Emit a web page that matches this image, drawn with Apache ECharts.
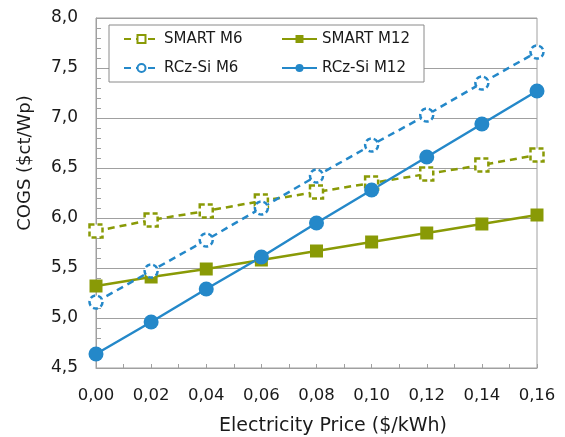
<!DOCTYPE html>
<html><head><meta charset="utf-8">
<script src="https://cdn.jsdelivr.net/npm/echarts@6/dist/echarts.min.js"></script>
<style>html,body{margin:0;padding:0;background:#fff}#c{width:565px;height:437px}</style>
</head><body><div id="c"></div>
<script>
const prices = [0.00, 0.02, 0.04, 0.06, 0.08, 0.10, 0.12, 0.14, 0.16];
const smartM6 = [5.87, 5.98, 6.07, 6.17, 6.26, 6.35, 6.44, 6.53, 6.63];
const smartM12 = [5.32, 5.41, 5.49, 5.58, 5.67, 5.76, 5.85, 5.94, 6.03];
const rczM6 = [5.16, 5.47, 5.78, 6.10, 6.42, 6.73, 7.03, 7.35, 7.66];
const rczM12 = [4.64, 4.96, 5.29, 5.61, 5.95, 6.28, 6.61, 6.94, 7.27];
const seriesNames = ['SMART M6', 'SMART M12', 'RCz-Si M6', 'RCz-Si M12'];
const xTitle = 'Electricity Price ($/kWh)';
const yTitle = 'COGS ($ct/Wp)';

const GREEN = '#899a06';
const BLUE = '#2488c9';
const FONT = 'DejaVu Sans';
const pair = (ys) => prices.map((x, i) => [x, ys[i]]);

const chart = echarts.init(document.getElementById('c'), null, {renderer: 'canvas'});
const lineSeries = (name, ys, color, dashed, symbol, size, open) => ({
  name, type: 'line', data: pair(ys), symbol, symbolSize: size,
  showSymbol: true, animation: false,
  lineStyle: {color, width: 2.5, type: dashed ? [7, 5] : 'solid'},
  itemStyle: open ? {color: '#fff', borderColor: color, borderWidth: 2.5, borderType: [5, 3]}
                  : {color, borderColor: color, borderWidth: 0},
  emphasis: {disabled: true}
});
chart.setOption({
  animation: false,
  textStyle: {fontFamily: FONT},
  grid: {left: 96, right: 28, top: 18, bottom: 69, show: true, borderColor: '#a0a0a0', borderWidth: 1},
  legend: {
    left: 109, top: 25, width: 300, orient: 'horizontal',
    padding: [3, 12, 3, 14], itemGap: 7, itemWidth: 35, itemHeight: 10,
    backgroundColor: '#fff', borderColor: '#8a8a8a', borderWidth: 1,
    textStyle: {fontFamily: FONT, fontSize: 15, color: '#1a1a1a', lineHeight: 22},
    data: [
      {name: seriesNames[0], textStyle: {width: 110}},
      {name: seriesNames[1], textStyle: {width: 90}},
      {name: seriesNames[2], textStyle: {width: 110}},
      {name: seriesNames[3], textStyle: {width: 90}}
    ]
  },
  xAxis: {
    type: 'value', min: 0, max: 0.16, interval: 0.02,
    axisLine: {show: true, lineStyle: {color: '#a0a0a0', width: 1}},
    axisTick: {show: true, inside: true, length: 4, lineStyle: {color: '#a0a0a0'}},
    minorTick: {show: true, splitNumber: 2, length: 4, lineStyle: {color: '#a0a0a0'}},
    splitLine: {show: false},
    axisLabel: {margin: 19, fontSize: 16.5, color: '#1a1a1a', fontFamily: FONT,
      formatter: v => v.toFixed(2).replace('.', ',')}
  },
  yAxis: {
    type: 'value', min: 4.5, max: 8.0, interval: 0.5,
    axisLine: {show: true, lineStyle: {color: '#a0a0a0', width: 1}},
    axisTick: {show: true, inside: true, length: 5, lineStyle: {color: '#a0a0a0'}},
    minorTick: {show: true, splitNumber: 5, length: 5, lineStyle: {color: '#a0a0a0'}},
    splitLine: {show: true, lineStyle: {color: '#a0a0a0', width: 1}},
    axisLabel: {margin: 18, fontSize: 17, color: '#1a1a1a', fontFamily: FONT,
      formatter: v => v.toFixed(1).replace('.', ',')}
  },
  graphic: [
    {type: 'text', x: 333, y: 426, style: {text: xTitle, font: '19px "DejaVu Sans"', fill: '#1a1a1a', textAlign: 'center', textVerticalAlign: 'middle'}},
    {type: 'text', x: 25, y: 163, rotation: Math.PI / 2, style: {text: yTitle, font: '18px "DejaVu Sans"', fill: '#1a1a1a', textAlign: 'center', textVerticalAlign: 'middle'}}
  ],
  series: [
    lineSeries(seriesNames[0], smartM6, GREEN, true, 'rect', 13, true),
    lineSeries(seriesNames[1], smartM12, GREEN, false, 'rect', 13, false),
    lineSeries(seriesNames[2], rczM6, BLUE, true, 'circle', 13, true),
    lineSeries(seriesNames[3], rczM12, BLUE, false, 'circle', 15, false)
  ]
});
</script></body></html>
